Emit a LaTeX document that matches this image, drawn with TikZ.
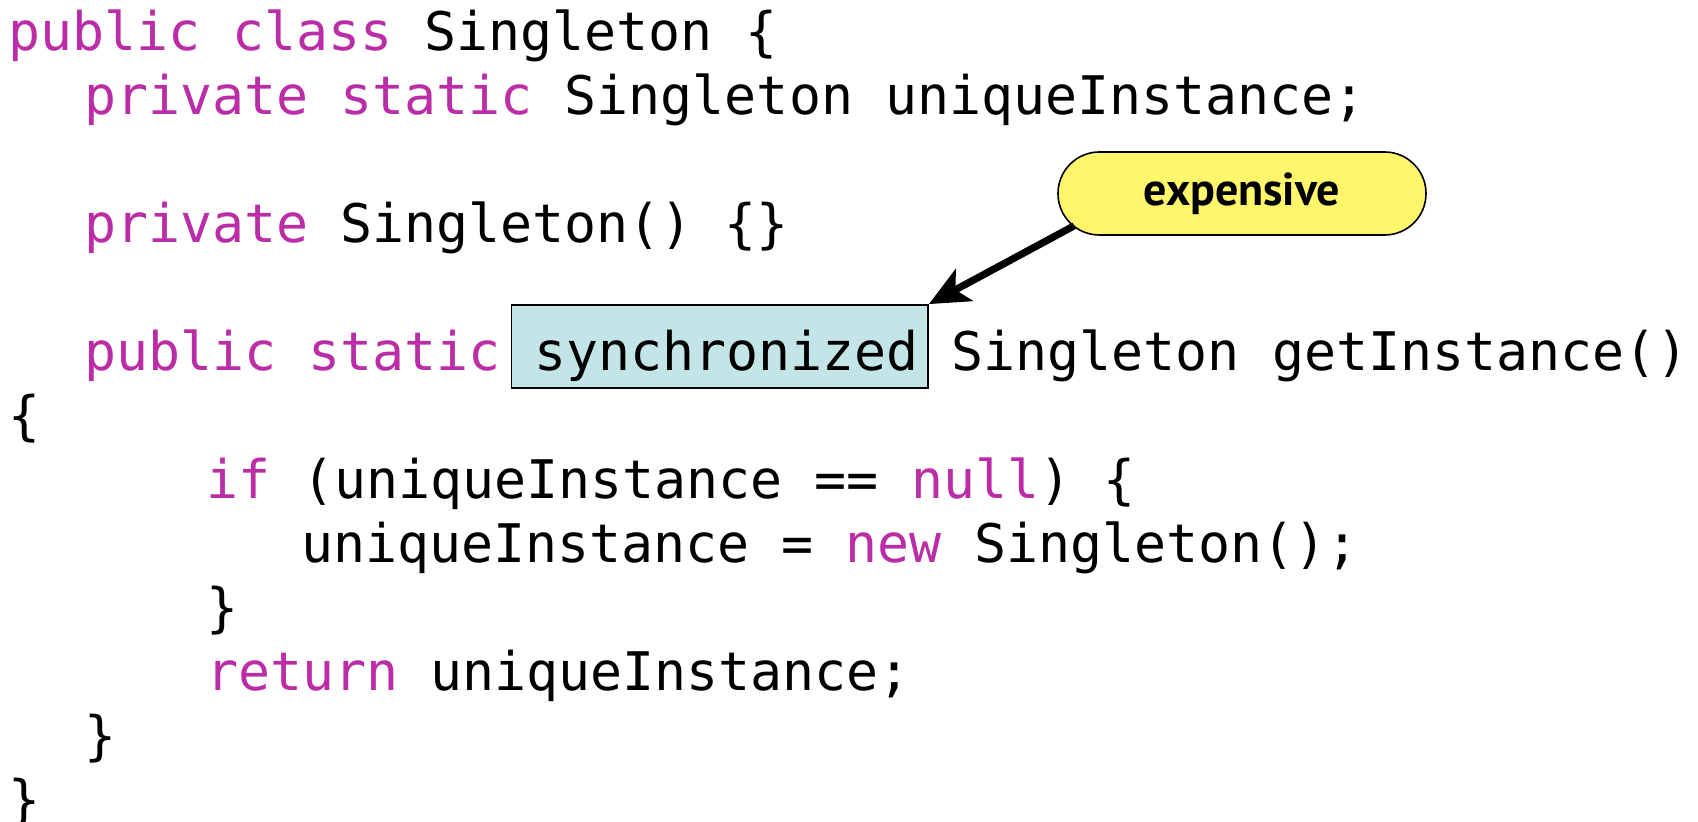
\documentclass[tikz,border=0pt]{standalone}
\usepackage{fontspec}
\setmonofont{DejaVu Sans Mono}
\newfontfamily\calloutfont{PT Sans}
\definecolor{keyword}{RGB}{187, 45, 167}
\definecolor{syncfill}{RGB}{196, 229, 232}
\definecolor{noteyellow}{RGB}{255, 246, 107}
\usetikzlibrary{arrows.meta, positioning, calc}

\begin{document}
\begin{tikzpicture}[
    code/.style={anchor=base west, inner sep=0pt, font=\fontsize{26.6}{32}\selectfont\ttfamily},
    syncbox/.style={draw=black, line width=0.9pt, fill=syncfill, inner xsep=4.8pt, inner ysep=0pt, text height=33pt, text depth=8.5pt},
    note/.style={draw=black, line width=0.8pt, fill=noteyellow, rounded corners=20.7pt, minimum width=184pt, minimum height=41.5pt, inner sep=0pt, font=\calloutfont\bfseries\fontsize{23}{27}\selectfont},
    pointer/.style={line width=3.6pt, -{Stealth[length=20pt, width=18pt, inset=5pt]}}
  ]
  \useasboundingbox (0,0) rectangle (849pt,-411pt);

  \node[code] (classline) at (4pt,-25.5pt) {\textcolor{keyword}{public class} Singleton \{};
  \node[code] (fieldline) at (42pt,-57.5pt) {\textcolor{keyword}{private static} Singleton uniqueInstance;};

  \node[code] (ctorline) at (42pt,-121.5pt) {\textcolor{keyword}{private} Singleton() \{\}};

  \node[code] (methodline) at (42pt,-185.5pt) {\textcolor{keyword}{public static}};
  \node[code, syncbox, xshift=4.7pt] (sync) at (methodline.base east) {\hspace{6.5pt}synchronized};
  \node[code, xshift=-4.8pt] (methodrest) at (sync.base east) {\ Singleton getInstance()};
  \node[code] (openbrace) at (4pt,-217.5pt) {\{};
  \node[code] (ifline) at (103pt,-249.5pt) {\textcolor{keyword}{if} (uniqueInstance == \textcolor{keyword}{null}) \{};
  \node[code] (newline) at (150.5pt,-281.5pt) {uniqueInstance = \textcolor{keyword}{new} Singleton();};
  \node[code] (ifclose) at (103pt,-313.5pt) {\}};
  \node[code] (returnline) at (103pt,-345.5pt) {\textcolor{keyword}{return} uniqueInstance;};
  \node[code] (methodclose) at (42pt,-377.5pt) {\}};
  \node[code] (classclose) at (4pt,-409.5pt) {\}};

  % callout
  \node[note] (expensive) at (621pt,-96.75pt) {\raisebox{-2pt}{expensive}};
  \draw[pointer] ([shift={(8.5pt,5pt)}]expensive.south west) -- (sync.north east);
\end{tikzpicture}
\end{document}
